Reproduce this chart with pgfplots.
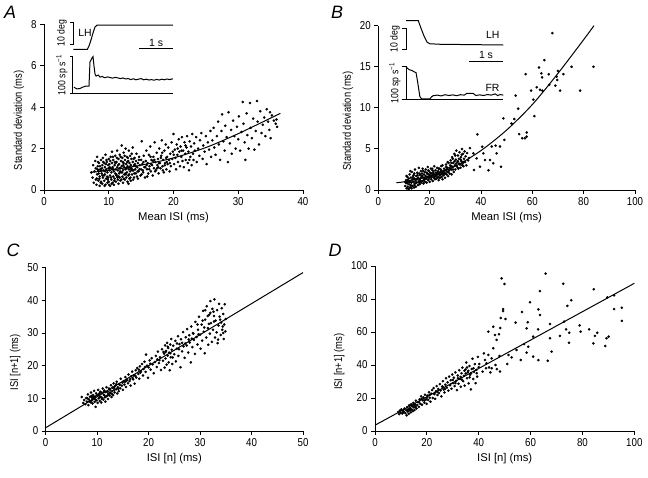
\documentclass[border=0pt]{standalone}
\usepackage{pgfplots}
\pgfplotsset{compat=1.18}
\usepackage{graphicx}
\usepackage{fontspec}
\setmainfont{Liberation Sans}
\pgfplotsset{
 panel/.style={scale only axis, axis lines=left, axis line style={-, line width=0.9pt},
   tick align=outside, major tick length=4bp, tick style={line width=0.9pt, black},
   tick label style={font=\fontsize{11.5}{13}\selectfont},
   xticklabel={\scalebox{0.85}[1]{\pgfmathprintnumber{\tick}}},
   yticklabel={\scalebox{0.85}[1]{\pgfmathprintnumber{\tick}}},
   label style={font=\fontsize{11.3}{13}\selectfont},
   ylabel style={at={(ticklabel cs:0.42)}},
   /pgf/number format/assume math mode=true, clip=false, anchor=south west},
 dots/.style={only marks, mark=*, mark size=1.1pt, black, mark options={draw=black, fill=black}},
 fit/.style={black, line width=1pt, no marks},
 tr/.style={black, line width=1pt, no marks},
}
\newcommand{\yl}[1]{\scalebox{0.83}[1]{#1}}
\begin{document}
\begin{tikzpicture}
\useasboundingbox (0,0) rectangle (648bp,478bp);
\def\pl{\fontsize{18}{18}\selectfont\itshape}
\node at (10bp,466bp) {\pl A};
\node at (337bp,466bp) {\pl B};
\node at (13bp,228bp) {\pl C};
\node at (335bp,228bp) {\pl D};
% ---------------- A
\begin{axis}[panel, at={(44bp,288bp)}, width=259bp, height=165.7bp,
  xmin=0, xmax=40, ymin=0, ymax=8, xtick={0,10,20,30,40}, ytick={0,2,4,6,8},
  xlabel={Mean ISI (ms)}, ylabel={\yl{Standard deviation (ms)}}]
\addplot[dots] coordinates {
(7.3,0.85)(7.5,0.6)(7.6,1.2)(7.7,0.35)(7.8,0.9)(7.9,1.4)(8.0,0.5)(8.0,1.05)(8.1,0.25)(8.2,0.75)(8.2,1.6)(8.3,1.15)(8.4,0.45)(8.4,0.95)(8.5,1.3)(8.6,0.2)(8.6,0.65)(8.7,1.0)(8.8,1.45)(8.8,0.4)(8.9,0.8)(9.0,1.2)(9.0,0.3)(9.1,0.6)(9.1,1.55)(9.2,0.95)(9.3,0.45)(9.3,1.3)(9.4,0.75)(9.4,1.1)(9.5,0.25)(9.5,1.7)(9.6,0.55)(9.6,1.0)(9.7,1.35)(9.8,0.35)(9.8,0.85)(9.9,1.2)(9.9,0.6)(10.0,1.5)(10.0,0.4)(10.1,0.95)(10.1,1.25)(10.2,0.2)(10.2,0.7)(10.3,1.6)(10.3,1.05)(10.4,0.5)(10.4,0.85)(10.5,1.3)(10.5,1.85)(10.6,0.35)(10.6,1.1)(10.7,0.65)(10.7,1.45)(10.8,0.9)(10.8,0.25)(10.9,1.2)(10.9,0.55)(11.0,1.65)(11.0,0.8)(11.1,1.0)(11.1,0.4)(11.2,1.35)(11.2,0.7)(11.3,1.9)(11.3,1.1)(11.4,0.5)(11.4,0.95)(11.5,1.5)(11.5,0.3)(11.6,0.8)(11.6,1.25)(11.7,0.6)(11.7,1.7)(11.8,1.05)(11.8,0.45)(11.9,1.4)(11.9,0.85)(12.0,2.15)(12.0,1.15)(12.1,0.65)(12.1,1.55)(12.2,0.35)(12.2,0.95)(12.3,1.3)(12.3,1.8)(12.4,0.75)(12.4,1.1)(12.5,0.5)(12.5,1.45)(12.6,1.0)(12.6,2.0)(12.7,0.6)(12.7,1.25)(12.8,1.6)(12.8,0.85)(12.9,0.4)(12.9,1.15)(13.0,1.4)(13.0,0.7)(13.1,1.9)(13.1,1.0)(13.2,0.55)(13.2,1.3)(13.3,0.9)(13.3,1.65)(13.4,1.2)(13.4,0.45)(13.5,1.05)(13.5,1.5)(13.6,0.75)(13.7,1.35)(13.7,2.05)(13.8,0.95)(13.9,1.2)(13.9,0.6)(14.0,1.55)(14.1,1.0)(14.2,0.8)(14.2,1.4)(14.3,1.75)(14.4,1.1)(14.5,0.55)(14.5,1.3)(14.6,0.9)(14.7,1.6)(14.8,1.2)(14.9,0.7)(15.0,1.45)(15.0,1.0)(15.1,2.35)(15.2,1.25)(15.3,0.85)(15.4,1.65)(15.5,1.1)(15.6,0.6)(15.7,1.4)(15.8,1.9)(15.9,1.0)(16.0,1.3)(16.1,0.8)(16.2,1.7)(16.3,1.15)(16.4,2.1)(16.5,0.9)(16.6,1.45)(16.7,1.2)(16.8,0.7)(16.9,1.6)(17.0,1.05)(17.1,2.3)(17.2,1.35)(17.3,0.95)(17.4,1.8)(17.5,1.2)(17.6,1.5)(17.7,0.8)(17.8,2.0)(17.9,1.3)(18.0,1.05)(18.1,1.65)(18.2,2.4)(18.3,1.15)(18.4,1.45)(18.5,0.85)(18.6,1.9)(18.7,1.3)(18.8,2.2)(18.9,1.0)(19.0,1.6)(19.1,1.25)(19.2,2.05)(19.3,1.45)(19.4,0.9)(19.5,1.75)(19.6,1.15)(19.7,2.3)(19.8,1.5)(19.9,1.85)(20.0,2.7)(20.1,1.25)(20.2,1.95)(20.3,1.55)(20.4,1.0)(20.5,2.2)(20.6,1.7)(20.7,1.35)(20.8,2.45)(20.9,1.85)(21.0,1.15)(21.1,2.1)(21.2,1.6)(21.3,2.55)(21.4,1.4)(21.5,1.9)(21.6,1.1)(21.7,2.3)(21.8,1.75)(21.9,1.45)(22.0,2.05)(22.1,2.6)(22.2,1.3)(22.3,1.85)(22.4,0.95)(22.5,2.35)(22.6,1.6)(22.7,2.1)(22.8,1.2)(22.9,2.7)(23.0,1.75)(23.1,1.45)(23.2,2.25)(23.3,1.9)(23.5,2.55)(23.6,1.35)(23.8,2.0)(24.0,1.65)(24.1,2.4)(24.3,2.75)(24.5,1.5)(24.6,2.15)(24.8,1.85)(25.0,2.6)(25.1,1.25)(25.3,2.3)(25.5,1.95)(25.7,2.85)(25.8,1.6)(26.0,2.4)(26.2,3.0)(26.3,2.05)(26.5,1.7)(26.7,2.6)(26.9,3.3)(27.0,2.2)(27.2,1.45)(27.4,2.85)(27.5,3.65)(27.7,2.35)(27.9,1.9)(28.0,3.1)(28.2,2.55)(28.4,1.35)(28.5,3.75)(28.7,2.25)(28.9,2.9)(29.0,1.75)(29.2,3.35)(29.4,2.6)(29.6,2.0)(29.8,3.05)(30.0,2.45)(30.1,3.55)(30.3,1.9)(30.5,2.8)(30.7,4.25)(30.8,3.2)(31.0,2.3)(31.1,1.45)(31.3,3.7)(31.4,2.65)(31.6,2.0)(31.8,4.2)(31.9,3.0)(32.1,2.5)(32.3,3.45)(32.5,1.95)(32.7,2.85)(32.9,4.3)(33.0,3.3)(33.2,2.2)(33.4,3.8)(33.6,2.75)(33.8,3.15)(34.0,3.5)(34.2,2.6)(34.4,3.9)(34.6,3.3)(34.8,2.9)(35.0,2.5)(35.2,3.6)(35.5,3.35)(35.8,3.2)(36.0,3.05)(35.9,3.4)(34.9,3.75)
(8.25,1.0)(8.55,0.55)(8.95,1.05)(9.25,0.7)(9.55,1.25)(9.85,0.5)(10.15,1.1)(10.45,0.3)(10.75,1.0)(11.05,1.3)(11.35,0.6)(11.65,1.05)(11.95,0.5)(12.25,1.2)(12.55,0.8)(12.85,1.35)(13.15,0.75)(13.45,1.0)(13.75,0.5)(14.05,1.25)(14.35,0.65)(14.65,1.45)(15.25,0.95)(15.85,1.2)(16.45,1.6)(17.05,1.45)(17.65,1.1)(18.25,1.8)(18.85,1.55)(19.45,1.3)(20.05,1.7)(20.65,2.0)(21.25,1.9)(21.85,2.15)(22.45,1.45)
(8.15,0.55)(8.35,1.35)(8.45,0.8)(8.65,1.15)(8.75,0.35)(8.85,0.95)(9.05,0.7)(9.15,1.35)(9.35,0.2)(9.45,0.9)(9.65,1.45)(9.75,0.65)(9.95,1.05)(10.05,0.25)(10.25,1.4)(10.35,0.6)(10.55,1.0)(10.65,1.6)(10.85,0.45)(10.95,1.35)(11.15,0.75)(11.25,1.55)(11.45,1.2)(11.55,0.65)(11.75,0.9)(11.85,1.6)(12.05,0.85)(12.15,1.35)(12.35,0.55)(12.45,1.65)(12.65,0.75)(12.75,1.05)(12.95,1.55)(13.05,0.3)(13.25,1.1)(13.35,0.6)(13.55,1.75)(13.65,0.95)(13.85,1.5)(13.95,0.8)(14.15,1.15)(14.45,0.9)(14.75,1.0)(15.05,0.75)(15.35,1.35)(15.65,1.1)(15.95,0.65)(16.25,1.0)(16.55,1.25)(16.85,1.4)(17.15,0.9)(17.45,1.05)(17.75,1.3)(18.05,1.55)(18.35,0.95)(18.65,1.2)(18.95,1.35)
};
\addplot[fit, smooth] coordinates {(7.2,0.85)(10,0.95)(15,1.2)(20,1.55)(25,2.05)(30,2.72)(36.5,3.7)};
% inset A
\addplot[tr] coordinates {(4.53,6.79)(6.69,6.79)(6.95,6.95)(7.26,7.24)(7.57,7.58)(7.88,7.87)(8.19,7.96)(19.92,7.96)};
\addplot[tr] coordinates {(4.02,8.09)(4.63,8.09)(4.63,7.04)(4.02,7.04)};
\addplot[tr] coordinates {(14.72,6.81)(19.88,6.81)};
\addplot[tr] coordinates {(4.02,6.44)(4.43,6.44)(4.43,4.67)};
\addplot[tr] coordinates {(4.02,4.67)(19.92,4.67)};
\addplot[tr] coordinates {(4.63,4.96)(5.10,4.88)(5.56,4.90)(6.02,4.97)(6.49,5.02)(6.8,5.02)(6.95,5.02)(7.1,6.18)(7.41,6.37)(7.57,6.44)(7.72,5.99)(7.88,5.6)(8.03,5.5)(8.39,5.55)(8.65,5.45)(9.0,5.48)(9.4,5.42)(9.8,5.46)(10.2,5.43)(10.6,5.40)(11.0,5.44)(11.4,5.41)(11.8,5.38)(12.2,5.41)(12.6,5.36)(13.0,5.38)(13.4,5.33)(13.8,5.37)(14.2,5.32)(14.6,5.35)(15.0,5.38)(15.4,5.32)(15.8,5.35)(16.2,5.31)(16.6,5.33)(17.0,5.30)(17.4,5.34)(17.8,5.31)(18.2,5.35)(18.6,5.32)(19.0,5.36)(19.4,5.33)(19.9,5.37)};
\node[font=\fontsize{10.5}{12}\selectfont, anchor=west] at (axis cs:4.75,7.58) {LH};
\node[font=\fontsize{10.5}{12}\selectfont, rotate=90] at (axis cs:2.78,7.58) {\yl{10 deg}};
\node[font=\fontsize{10.5}{12}\selectfont] at (axis cs:17.3,7.1) {1 s};
\node[font=\fontsize{10.5}{12}\selectfont, rotate=90] at (axis cs:2.78,5.55) {\yl{100 sp s\textsuperscript{−1}}};
\end{axis}
% ---------------- B
\begin{axis}[panel, at={(378.3bp,288bp)}, width=256.7bp, height=164.3bp,
  xmin=0, xmax=100, ymin=0, ymax=20, xtick={0,20,40,60,80,100}, ytick={0,5,10,15,20},
  xlabel={Mean ISI (ms)}, ylabel={\yl{Standard deviation (ms)}}]
\addplot[dots] coordinates {
(10.5,0.5)(10.8,1.2)(11.0,0.2)(11.2,0.8)(11.3,1.6)(11.5,0.4)(11.6,1.0)(11.8,0.1)(11.9,1.4)(12.0,0.7)(12.2,1.9)(12.3,0.3)(12.4,1.1)(12.6,0.6)(12.7,1.5)(12.9,0.9)(13.0,0.2)(13.1,2.2)(13.3,1.3)(13.4,0.5)(13.6,1.0)(13.7,1.8)(13.9,0.3)(14.0,1.4)(14.2,0.8)(14.3,2.5)(14.5,1.1)(14.6,0.4)(14.8,1.7)(14.9,0.9)(15.1,1.3)(15.2,2.1)(15.4,0.6)(15.5,1.5)(15.7,1.0)(15.8,2.7)(16.0,1.2)(16.1,0.7)(16.3,1.8)(16.4,1.4)(16.6,2.3)(16.7,0.9)(16.9,1.6)(17.0,2.0)(17.2,1.1)(17.3,2.6)(17.5,1.5)(17.6,0.8)(17.8,1.9)(17.9,1.3)(18.1,2.2)(18.2,1.0)(18.4,1.7)(18.5,2.5)(18.7,1.4)(18.8,0.9)(19.0,2.0)(19.1,1.6)(19.3,2.8)(19.4,1.2)(19.6,1.9)(19.7,2.3)(19.9,1.5)(20.0,1.0)(20.2,2.1)(20.3,1.7)(20.5,2.6)(20.6,1.3)(20.8,2.0)(20.9,1.6)(21.1,2.4)(21.2,1.1)(21.4,1.8)(21.5,2.2)(21.7,1.5)(21.8,2.9)(22.0,1.9)(22.1,1.3)(22.3,2.4)(22.4,1.7)(22.6,2.1)(22.7,1.4)(22.9,2.7)(23.0,1.9)(23.2,1.6)(23.3,2.3)(23.5,1.2)(23.6,2.0)(23.8,2.6)(23.9,1.8)(24.1,1.5)(24.2,2.2)(24.4,1.9)(24.5,2.9)(24.7,1.6)(24.8,2.3)(25.0,1.3)(25.2,2.1)(25.4,1.8)(25.6,2.6)(25.8,2.0)(26.0,1.5)(26.2,2.4)(26.4,3.1)(26.6,1.9)(26.8,2.2)(27.0,2.7)(27.2,1.7)(27.4,3.3)(27.6,2.4)(27.8,2.0)(28.0,3.0)(28.2,3.6)(28.4,2.5)(28.6,1.9)(28.8,4.0)(29.0,2.8)(29.2,3.3)(29.4,2.2)(29.6,4.4)(29.8,3.0)(30.0,2.5)(30.2,3.7)(30.4,4.8)(30.6,2.9)(30.8,3.4)(31.0,4.2)(31.2,2.6)(31.4,3.8)(31.6,4.6)(31.8,3.1)(32.0,2.7)(32.2,4.0)(32.4,3.5)(32.6,5.0)(32.8,3.2)(33.0,4.4)(33.2,2.9)(33.4,3.8)(33.6,4.7)(33.8,3.4)(34.0,4.1)(34.3,3.0)(34.6,4.5)(35.0,3.6)(35.3,3.9)(29.0,3.8)(27.0,3.4)(25.0,3.0)(31.0,3.5)(30.0,4.2)(32.5,4.3)(28.5,2.9)(26.5,2.8)(23.5,2.6)(21.0,2.6)(19.5,2.4)(17.5,2.3)(16.0,2.0)(12.5,2.3)(14.0,2.0)(11.0,1.7)(10.6,0.9)
(11.4,1.2)(12.1,1.0)(12.8,0.5)(13.5,1.6)(14.1,0.6)(14.7,1.3)(15.3,1.8)(15.9,0.9)(16.5,1.1)(17.1,1.7)(17.7,1.2)(18.3,1.4)(18.9,2.1)(19.5,1.3)(20.1,1.8)(20.7,1.5)(21.3,2.0)(21.9,1.6)(22.5,1.8)(23.1,2.1)(23.7,1.5)(24.3,2.5)(24.9,2.0)(25.5,2.3)(26.1,2.0)(26.7,2.5)(27.3,2.2)(27.9,2.7)(28.5,3.3)(29.1,2.5)(29.7,3.5)(30.3,3.2)(30.9,2.7)(31.5,3.2)(32.1,3.7)(32.7,3.0)(33.3,3.4)
(38.6,6.77)(48.7,8.72)(49.1,6.1)(51.9,8.1)(53.0,8.64)(53.5,11.5)(54.5,9.9)(54.9,6.8)(56.1,6.3)(57.1,6.3)(57.8,7.0)(57.8,6.5)(57.4,14.1)(59.5,12.1)(60.4,11.0)(60.8,9.0)(61.7,12.5)(62.6,14.9)(63.0,12.2)(63.5,14.2)(63.8,13.7)(63.9,12.1)(64.7,15.8)(66.4,14.1)(66.6,12.8)(67.8,19.1)(69.0,12.7)(69.7,13.4)(70.0,14.5)(70.8,12.1)(72.1,14.1)(75.3,15.0)(78.6,12.1)(83.8,15.0)(69.5,13.8)
(45.7,5.4)(44.2,5.3)(43.5,3.65)(44.8,3.25)(47.4,5.3)(47.8,2.84)(46.1,4.46)(41.6,3.65)(40.5,5.27)(42.9,2.4)(39.6,2.84)(38.3,3.85)(37.0,4.46)(35.7,5.1)(40.9,4.46)(37.3,2.43)
};
\addplot[fit, smooth] coordinates {(7,0.9)(10,1.0)(20,1.7)(30,2.9)(40,4.8)(50,7.3)(60,10.4)(70,14.2)(80,18.3)(84,20)};
% inset B
\addplot[tr] coordinates {(10.8,20.61)(15.58,20.61)(16.6,19.72)(17.8,18.75)(18.97,18.0)(20.1,17.8)(24.0,17.74)(48.7,17.65)};
\addplot[tr] coordinates {(9.1,19.68)(10.8,19.68)(10.8,17.13)(9.1,17.13)};
\addplot[tr] coordinates {(35.4,15.70)(48.5,15.70)};
\addplot[tr] coordinates {(9.1,15.0)(10.8,15.0)(10.8,11.04)};
\addplot[tr] coordinates {(9.1,11.04)(48.7,11.04)};
\addplot[tr] coordinates {(10.8,15.0)(11.3,14.83)(12.08,14.64)(13.0,14.56)(13.9,14.4)(14.7,14.28)(15.2,13.39)(15.7,12.38)(16.2,11.36)(16.9,11.08)(20.1,11.08)(20.8,11.36)(21.4,11.48)(23,11.55)(24.5,11.45)(26,11.6)(27.5,11.5)(29,11.58)(30.5,11.48)(32,11.6)(33.5,11.55)(34.4,11.75)(37,11.75)(38,11.5)(39.5,11.58)(41,11.5)(42.5,11.62)(44,11.55)(45.5,11.7)(46.5,11.5)(47.5,11.62)(48.7,11.55)};
\node[font=\fontsize{10.5}{12}\selectfont, anchor=east] at (axis cs:48.6,18.87) {LH};
\node[font=\fontsize{10.5}{12}\selectfont, anchor=east] at (axis cs:48.6,12.4) {FR};
\node[font=\fontsize{10.5}{12}\selectfont, rotate=90] at (axis cs:6.5,18.4) {\yl{10 deg}};
\node[font=\fontsize{10.5}{12}\selectfont] at (axis cs:41.95,16.45) {1 s};
\node[font=\fontsize{10.5}{12}\selectfont, rotate=90] at (axis cs:6.5,13.0) {\yl{100 sp s\textsuperscript{−1}}};
\end{axis}
% ---------------- C
\begin{axis}[panel, at={(45.7bp,47bp)}, width=257.3bp, height=163.3bp,
  xmin=0, xmax=50, ymin=0, ymax=50, xtick={0,10,20,30,40,50}, ytick={0,10,20,30,40,50},
  xlabel={ISI [n] (ms)}, ylabel={\yl{ISI [n+1] (ms)}}]
\addplot[dots] coordinates {
(7.0,10.4)(7.3,8.6)(7.5,9.5)(7.7,8.2)(7.9,10.1)(8.0,9.0)(8.2,11.2)(8.3,7.9)(8.4,9.7)(8.6,10.5)(8.7,8.8)(8.8,11.8)(8.9,9.3)(9.0,10.2)(9.1,8.4)(9.2,11.0)(9.3,9.8)(9.4,12.3)(9.5,8.9)(9.6,10.6)(9.7,7.4)(9.8,11.5)(9.9,9.4)(10.0,10.9)(10.1,8.6)(10.2,12.6)(10.3,10.0)(10.4,11.3)(10.5,9.2)(10.6,12.0)(10.7,10.5)(10.8,8.7)(10.9,11.7)(11.0,10.1)(11.1,13.0)(11.2,9.6)(11.3,11.1)(11.4,12.4)(11.5,10.3)(11.6,9.0)(11.7,11.9)(11.8,13.4)(11.9,10.7)(12.0,12.1)(12.1,9.8)(12.2,11.4)(12.3,13.0)(12.4,10.9)(12.5,12.6)(12.6,11.6)(12.7,14.0)(12.8,10.4)(12.9,12.2)(13.0,13.3)(13.1,11.0)(13.2,14.6)(13.3,12.5)(13.4,11.8)(13.5,13.8)(13.7,12.8)(13.8,15.1)(13.9,11.5)(14.0,13.4)(14.2,12.2)(14.3,14.4)(14.5,13.1)(14.6,16.0)(14.8,13.9)(15.0,12.6)(15.1,15.2)(15.3,14.2)(15.5,16.5)(15.6,13.5)(15.8,15.7)(16.0,14.6)(16.1,17.3)(16.3,15.3)(16.5,13.9)(16.6,16.7)(16.8,18.2)(17.0,15.8)(17.1,17.0)(17.3,14.5)(17.5,18.6)(17.6,16.4)(17.8,19.3)(18.0,17.5)(18.2,16.0)(18.3,19.8)(18.5,18.3)(18.7,20.5)(18.9,17.0)(19.0,19.0)(19.2,21.2)(19.4,18.1)(19.5,23.4)(19.7,20.0)(19.9,16.3)(20.0,19.5)(20.2,21.6)(20.4,18.8)(20.6,22.3)(20.8,20.4)(21.0,17.7)(21.2,21.1)(21.4,23.0)(21.6,19.6)(21.8,24.3)(22.0,20.8)(22.2,22.6)(22.4,18.7)(22.6,25.0)(22.8,21.5)(23.0,23.7)(23.1,19.4)(23.2,26.2)(23.3,22.2)(23.4,24.5)(23.5,20.3)(23.6,27.0)(23.7,23.1)(23.8,25.4)(23.9,21.0)(24.0,24.0)(24.1,18.6)(24.2,26.5)(24.3,22.6)(24.4,28.2)(24.5,24.9)(24.6,20.5)(24.8,26.1)(25.0,23.5)(25.2,27.6)(25.3,21.3)(25.5,25.2)(25.7,29.0)(25.8,23.0)(26.0,26.6)(26.2,19.5)(26.3,28.1)(26.5,24.4)(26.7,30.3)(26.8,25.9)(27.0,22.4)(27.2,28.7)(27.4,26.2)(27.5,31.2)(27.7,24.0)(27.9,29.3)(28.0,27.1)(28.2,21.0)(28.3,32.0)(28.5,25.7)(28.6,30.0)(28.8,27.9)(29.0,23.6)(29.1,33.4)(29.3,28.8)(29.5,26.5)(29.6,31.0)(29.8,35.0)(30.0,29.5)(30.1,25.2)(30.3,32.6)(30.4,27.7)(30.6,36.8)(30.7,30.4)(30.9,23.8)(31.0,34.1)(31.2,28.6)(31.3,38.2)(31.5,31.5)(31.6,26.4)(31.8,35.6)(31.9,29.8)(32.0,39.8)(32.1,33.0)(32.3,27.3)(32.4,37.4)(32.5,31.0)(32.7,35.2)(32.8,40.3)(32.9,28.6)(33.0,33.8)(33.2,30.2)(33.3,37.0)(33.4,26.9)(33.6,32.3)(33.7,38.9)(33.8,35.0)(34.0,29.4)(34.1,33.2)(34.2,37.6)(34.3,31.0)(34.5,35.8)(34.6,28.2)(34.7,32.6)(34.8,38.8)(34.9,30.5)(35.0,34.3)(34.5,30.0)(33.5,28.0)(32.0,36.2)(31.0,37.0)(31.5,35.2)(32.6,36.5)(30.5,33.8)(29.5,32.6)(28.7,29.8)(27.8,28.0)(26.5,27.0)(25.5,26.8)(24.2,23.8)(23.7,25.8)(22.9,24.2)(21.7,21.9)(20.3,20.6)(19.3,19.6)(18.4,17.9)(17.4,16.9)(16.4,15.9)(15.4,15.0)(14.4,14.1)(11.4,10.9)(10.5,11.6)(9.5,10.2)
(8.1,10.0)(8.5,9.1)(8.9,10.7)(9.3,10.4)(9.7,9.6)(10.1,11.0)(10.5,10.4)(10.9,9.8)(11.3,12.0)(11.7,10.5)(12.1,11.0)(12.5,11.8)(12.9,11.3)(13.3,13.2)(13.7,14.3)(14.1,12.9)(14.9,14.8)(15.7,15.4)(16.9,16.2)(18.1,18.8)(22.1,21.7)(23.3,24.2)(24.7,22.5)(25.9,25.0)(27.1,26.8)(28.4,28.3)(29.7,29.6)(30.8,31.7)(31.7,32.8)(32.7,33.5)(33.9,34.1)(34.4,32.0)
};
\addplot[fit] coordinates {(0,1.0)(50,48.5)};
\end{axis}
% ---------------- D
\begin{axis}[panel, at={(375bp,47bp)}, width=259.3bp, height=165bp,
  xmin=0, xmax=100, ymin=0, ymax=100, xtick={0,20,40,60,80,100}, ytick={0,20,40,60,80,100},
  xlabel={ISI [n] (ms)}, ylabel={\yl{ISI [n+1] (ms)}}]
\addplot[dots] coordinates {
(9.0,11.5)(9.3,10.2)(9.6,12.4)(9.9,11.0)(10.2,13.1)(10.5,10.6)(10.8,12.0)(11.1,11.4)(11.4,13.6)(11.7,10.8)(12.0,12.7)(12.2,9.5)(12.4,14.5)(12.6,11.8)(12.8,13.2)(13.0,10.4)(13.2,15.6)(13.4,12.5)(13.6,14.0)(13.8,11.3)(14.0,16.2)(14.2,13.0)(14.4,15.0)(14.6,12.1)(14.8,17.0)(15.0,14.3)(15.2,12.7)(15.4,16.1)(15.6,14.8)(15.8,18.4)(16.0,13.6)(16.3,15.8)(16.6,17.5)(16.9,14.6)(17.2,19.2)(17.5,16.4)(17.8,21.0)(18.1,15.9)(18.4,18.6)(18.7,20.3)(19.0,17.2)(19.3,22.0)(19.6,19.0)(19.9,16.5)(20.2,21.4)(20.5,18.8)(20.8,23.5)(21.1,20.1)(21.4,17.8)(21.7,22.6)(22.0,24.8)(22.3,20.0)(22.6,26.0)(22.9,22.3)(23.2,19.5)(23.5,24.1)(23.8,27.2)(24.1,21.8)(24.4,25.5)(24.7,23.0)(25.0,28.4)(25.3,24.6)(25.6,21.0)(25.9,26.8)(26.2,30.2)(26.5,25.1)(26.8,23.4)(27.1,28.1)(27.4,32.0)(27.7,26.3)(28.0,29.5)(28.3,24.5)(28.6,33.0)(28.9,27.7)(29.2,30.8)(29.5,25.6)(29.8,34.2)(30.1,29.0)(30.4,32.3)(30.7,27.2)(31.0,35.5)(31.3,30.4)(31.6,24.8)(31.9,33.6)(32.2,28.6)(32.5,36.8)(32.8,31.5)(33.1,26.8)(33.4,35.0)(33.7,38.4)(34.0,30.2)(34.3,33.5)(34.6,27.5)(34.9,37.2)(35.2,41.5)(35.5,32.0)(35.8,35.6)(36.1,28.9)(36.4,39.4)(36.7,34.0)(37.0,25.2)(37.3,37.6)(37.6,43.8)(37.9,31.5)(38.2,35.8)(38.5,40.5)(38.8,29.0)(39.1,37.0)(39.4,33.0)(39.7,44.9)(40.0,38.7)(36.0,36.5)(35.0,34.8)(33.0,32.8)(34.5,36.5)(37.0,35.0)(38.0,38.0)(36.5,32.5)(35.5,38.5)(11.0,12.0)(12.5,12.5)(13.5,13.5)(15.0,15.8)(18.0,19.5)(21.0,21.8)(24.0,23.8)(27.0,25.5)(29.0,28.0)(30.0,31.0)(32.0,32.0)(31.0,29.0)(33.5,31.2)(26.0,27.0)(23.0,23.0)(20.0,20.0)(17.0,17.5)(19.0,18.5)(44.0,38.5)(43.0,41.0)(41.5,36.0)(42.0,47.0)(45.0,44.0)(46.5,40.0)(48.0,45.5)(47.0,37.5)(44.5,35.5)
(48.8,92.5)(49.9,89.1)(65.8,95.4)(72.6,89.3)(59.8,78.0)(63.6,84.8)(63.0,73.7)(63.6,70.3)(49.4,73.9)(49.4,72.7)(56.7,72.1)(48.5,68.5)(50.3,67.9)(48.3,62.4)(47.8,58.6)(54.2,65.7)(58.5,62.2)(62.9,61.6)(58.9,65.9)(61.0,57.2)(67.5,64.8)(72.9,66.3)(73.7,61.6)(75.7,79.2)(74.2,75.8)(84.4,85.9)(89.6,81.0)(92.2,82.2)(92.2,73.9)(95.2,74.7)(95.2,66.7)(89.3,56.2)(88.8,51.5)(84.8,57.6)(85.7,59.6)(82.6,61.6)(78.9,64.0)(79.3,60.2)(74.9,59.6)(74.8,53.5)(71.3,57.6)(67.5,56.2)(68.1,48.1)(84.2,53.1)(90.1,57.2)(59.1,51.1)(57.5,52.7)(58.5,47.5)(61.0,45.1)(63.0,43.0)(66.6,42.6)(56.2,43.0)(54.6,49.1)(52.7,44.6)(51.0,40.6)(51.5,46.1)(45.6,63.2)(46.3,58.2)(43.7,60.2)(46.9,55.2)(45.6,50.1)(43.7,46.1)(42.4,43.0)(42.8,38.0)(40.2,40.6)(39.2,35.0)(48.2,36.0)(45.0,38.0)
};
\addplot[fit] coordinates {(0,3.5)(100,89.5)};
\end{axis}
\end{tikzpicture}
\end{document}
